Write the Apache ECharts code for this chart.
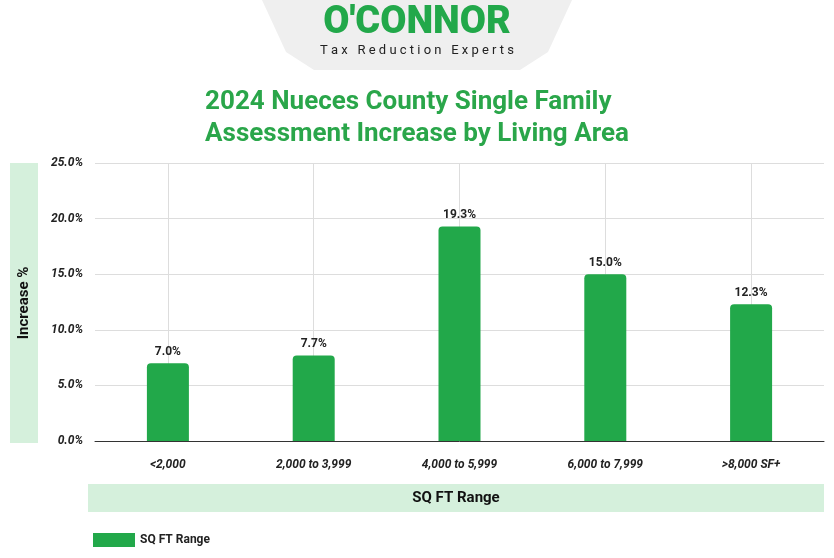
<!DOCTYPE html>
<html><head><meta charset="utf-8">
<script src="https://cdn.jsdelivr.net/npm/echarts@6/dist/echarts.min.js"></script>
<style>html,body{margin:0;padding:0;background:#fff}#c{width:834px;height:558px}</style>
</head><body><div id="c"></div>
<script>
const categories = ['<2,000','2,000 to 3,999','4,000 to 5,999','6,000 to 7,999','>8,000 SF+'];
const values = [7.0, 7.7, 19.3, 15.0, 12.3];
const yTicks = [0,5,10,15,20,25];
const green = '#22a84a';
const chart = echarts.init(document.getElementById('c'));
chart.setOption({
  animation:false,
  textStyle:{fontFamily:'Roboto'},
  graphic:[
    {type:'polygon',shape:{points:[[262,0],[572,0],[548,52],[520,70],[314,70],[286,52]]},style:{fill:'#efefef'},z:-1},
    {type:'text',left:'center',top:4,style:{text:"O'CONNOR",font:'900 38px Roboto',fill:'#22a84a'}},
    {type:'text',left:'center',top:44,style:{text:'T a x   R e d u c t i o n   E x p e r t s',font:'13px Roboto',fill:'#222'}},
    {type:'text',left:'center',top:86,style:{text:'2024 Nueces County Single Family\nAssessment Increase by Living Area',font:'bold 26px Roboto',fill:'#2aa64a',align:'center',lineHeight:32}},
    {type:'rect',shape:{x:10,y:163,width:28,height:280},style:{fill:'#d5f0dc'},z:-1},
    {type:'text',x:24,y:303,rotation:Math.PI/2,style:{text:'Increase %',font:'bold 15px Roboto',fill:'#111',align:'center',verticalAlign:'middle'}},
    {type:'rect',shape:{x:88,y:484,width:736,height:28},style:{fill:'#d5f0dc'},z:-1},
    {type:'text',x:456,y:498,style:{text:'SQ FT Range',font:'bold 15px Roboto',fill:'#111',align:'center',verticalAlign:'middle'}}
  ],
  legend:{left:88,top:528,itemWidth:42,itemHeight:14,icon:'rect',textStyle:{fontSize:12,fontWeight:'bold',color:'#222'},data:['SQ FT Range']},
  grid:{left:95,right:10,top:163,bottom:117},
  xAxis:{type:'category',data:categories,axisLine:{lineStyle:{color:'#333'}},axisTick:{show:false},
    axisLabel:{margin:18,fontStyle:'italic',fontWeight:'bold',fontSize:12,color:'#222'}},
  yAxis:{type:'value',min:0,max:25,interval:5,axisLabel:{formatter:v=>v.toFixed(1)+'%',fontStyle:'italic',fontWeight:'bold',fontSize:12,color:'#222',margin:12},
    splitLine:{lineStyle:{color:'#ddd'}}},
  series:[{name:'SQ FT Range',type:'bar',data:values,barWidth:42,itemStyle:{color:green,borderRadius:[4,4,0,0]},
    label:{show:true,position:'top',formatter:p=>p.value.toFixed(1)+'%',fontWeight:'bold',fontSize:12,color:'#222'},
    markLine:{silent:true,symbol:'none',label:{show:false},lineStyle:{color:'#ddd',type:'solid',width:1},z:0,
      data:categories.map(c=>({xAxis:c}))}}]
});
</script></body></html>
